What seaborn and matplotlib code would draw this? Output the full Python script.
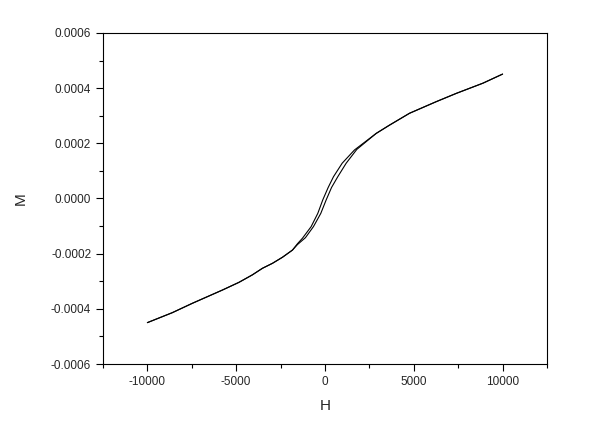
import numpy as np
import pandas as pd
import matplotlib
matplotlib.use('Agg')
import matplotlib.pyplot as plt
from matplotlib.ticker import MultipleLocator, FuncFormatter
import seaborn as sns

sns.set_style('ticks')
plt.rcParams['font.family'] = ['Liberation Sans', 'DejaVu Sans']

# shared outer parts of the loop (M in units of 1e-4)
h_low = [-10000, -8600, -7470, -5780, -4845, -4093, -3521, -2958, -2394, -1831]
m_low = [-4.50, -4.14, -3.80, -3.32, -3.04, -2.77, -2.53, -2.35, -2.13, -1.87]
h_high = [2884, 3634, 4761, 6263, 7390, 8892, 10000]
m_high = [2.36, 2.66, 3.09, 3.51, 3.81, 4.18, 4.51]

# central part, descending branch (left) and ascending branch (right)
h_desc = [-1550, -1268, -780, -405, -124, 180, 479, 969, 1662]
m_desc = [-1.64, -1.44, -1.02, -0.54, -0.05, 0.40, 0.79, 1.28, 1.76]
h_asc = [-1550, -1100, -650, -236, 68, 370, 721, 1194, 1792]
m_asc = [-1.67, -1.42, -1.02, -0.54, -0.05, 0.40, 0.79, 1.28, 1.78]

up = pd.DataFrame({'H': h_low + h_asc + h_high,
                   'M': np.array(m_low + m_asc + m_high) * 1e-4})
down = pd.DataFrame({'H': h_low + h_desc + h_high,
                     'M': np.array(m_low + m_desc + m_high) * 1e-4})

fig = plt.figure(figsize=(6.04, 4.29), dpi=100)
ax = fig.add_axes([0.1705, 0.1515, 0.7351, 0.7716])

sns.lineplot(data=up, x='H', y='M', sort=False, color='black', lw=0.8, ax=ax)
sns.lineplot(data=down, x='H', y='M', sort=False, color='black', lw=0.8, ax=ax)

ax.set_xlim(-12500, 12500)
ax.set_ylim(-0.0006, 0.0006)
ax.xaxis.set_major_locator(MultipleLocator(5000))
ax.xaxis.set_minor_locator(MultipleLocator(2500))
ax.yaxis.set_major_locator(MultipleLocator(0.0002))
ax.yaxis.set_minor_locator(MultipleLocator(0.0001))
ax.yaxis.set_major_formatter(FuncFormatter(lambda v, p: f'{v:.4f}'))
ax.xaxis.set_major_formatter(FuncFormatter(lambda v, p: f'{v:.0f}'))

ax.tick_params(which='major', direction='out', length=5, width=0.8,
               labelsize=8.5, color='black', top=False, right=False)
ax.tick_params(which='minor', direction='out', length=3, width=0.8,
               color='black', top=False, right=False)
for s in ax.spines.values():
    s.set_color('black')
    s.set_linewidth(0.8)

ax.set_xlabel('H', fontsize=11, labelpad=8)
ax.set_ylabel('M', fontsize=11, labelpad=17)

fig.savefig('out.png', dpi=100)
